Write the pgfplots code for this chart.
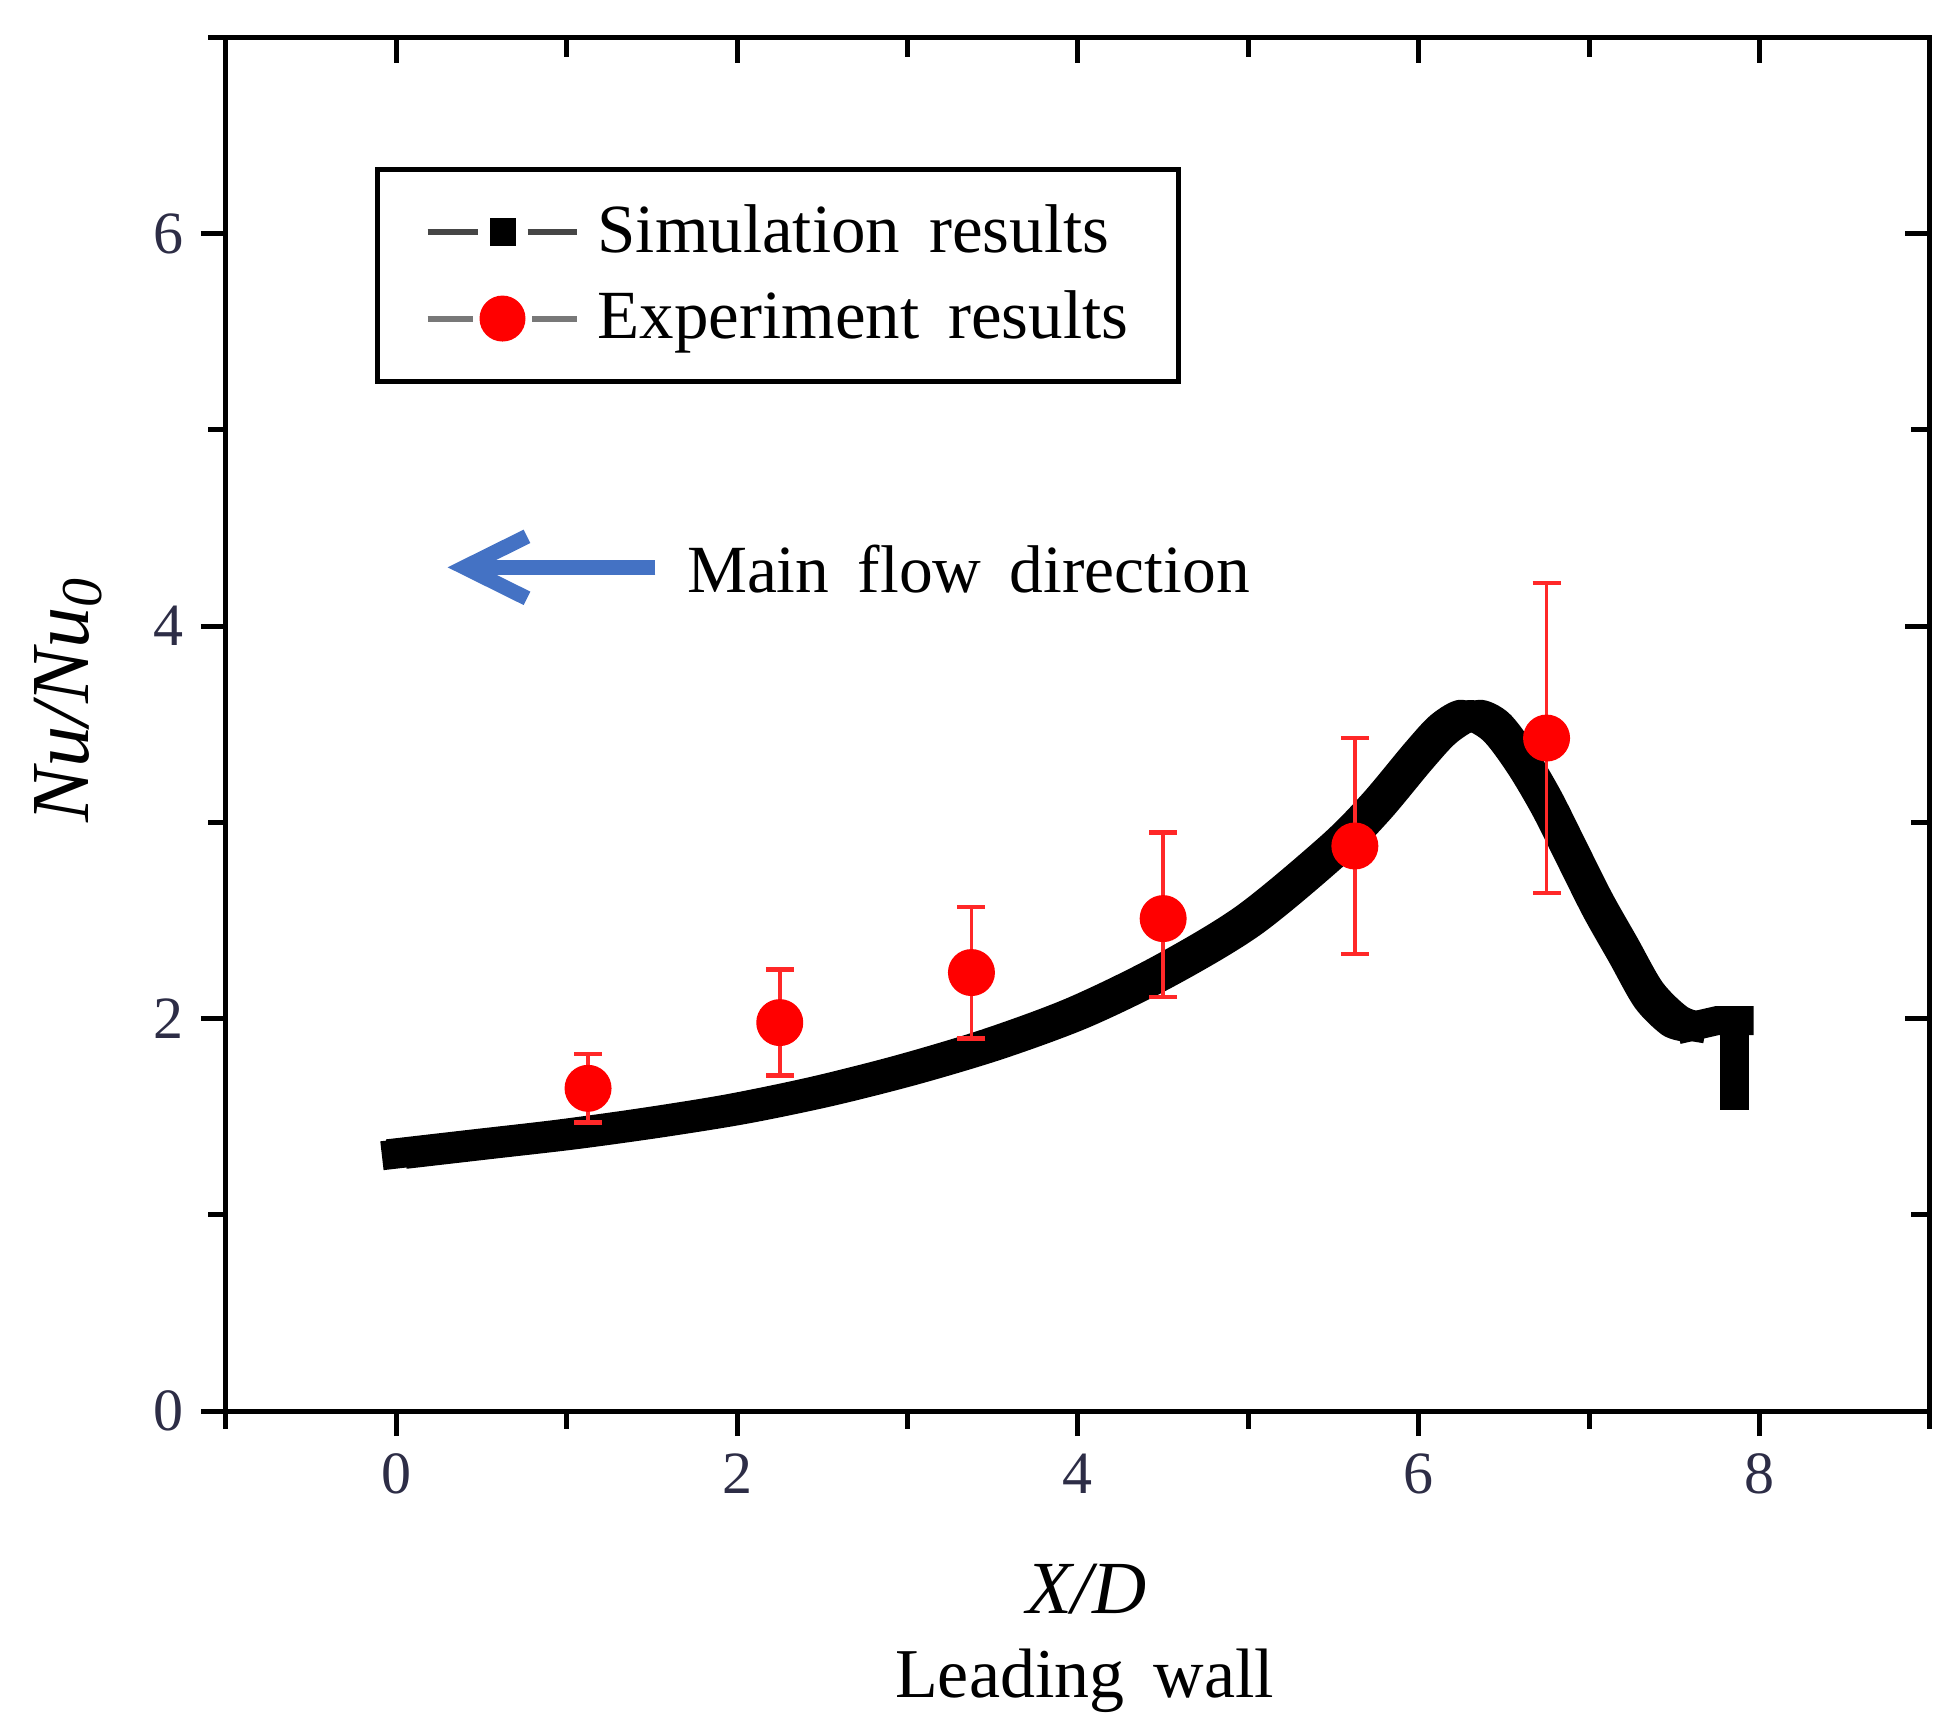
\documentclass[border=0pt]{standalone}
\usepackage{pgfplots}
\usepackage{pgfplotstable}
\pgfplotsset{compat=1.18}
\usepackage{fontspec}
\setmainfont{Liberation Serif}
\definecolor{flowblue}{RGB}{68,114,196}
\definecolor{ticktext}{RGB}{45,45,70}
\definecolor{legline}{RGB}{70,70,70}
\definecolor{legline2}{RGB}{120,120,120}
\definecolor{errred}{RGB}{255,40,40}
\newcommand{\ws}{\hspace{0.42em}}

% simulation curve (centre of the thick band)
\pgfplotstableread{
x y
0 1.31
0.5 1.36
1.0 1.41
1.5 1.47
2.0 1.54
2.5 1.63
3.0 1.74
3.5 1.87
4.0 2.03
4.5 2.24
5.0 2.50
5.5 2.86
5.75 3.08
6.0 3.34
6.15 3.48
6.3 3.55
6.45 3.49
6.6 3.32
6.75 3.10
6.9 2.84
7.05 2.58
7.2 2.35
7.35 2.12
7.5 1.99
7.6 1.96
}\simdata

\pgfplotstableread{
x y ep em
1.125 1.645 0.175 0.175
2.25 1.98 0.27 0.27
3.375 2.235 0.335 0.335
4.5 2.51 0.44 0.40
5.625 2.88 0.55 0.55
6.75 3.43 0.79 0.79
}\expdata

\begin{document}
\begin{tikzpicture}
% inward ticks on top and right
\begin{axis}[
    at={(0,0)}, anchor=south west,
    scale only axis, width=340.9pt, height=274.8pt,
    xmin=-1, xmax=9, ymin=0, ymax=7,
    axis line style={draw=none},
    xtick={0,2,...,8}, ytick={0,2,4,6},
    minor xtick={1,3,5,7}, minor ytick={1,3,5},
    tick align=inside, tick pos=right,
    major tick length=5pt, minor tick length=3.8pt,
    every tick/.style={black, line width=1pt},
    xticklabels={}, yticklabels={},
]
\end{axis}
\begin{axis}[
    name=ax, at={(0,0)}, anchor=south west,
    scale only axis, width=340.9pt, height=274.8pt,
    xmin=-1, xmax=9, ymin=0, ymax=7,
    axis line style={line width=1pt},
    xtick={0,2,...,8}, ytick={0,2,4,6},
    minor xtick={-1,1,3,5,7,9}, minor ytick={1,3,5,7},
    tick align=outside, tick pos=left,
    major tick length=5pt, minor tick length=3.5pt,
    every tick/.style={black, line width=1pt},
    tick label style={font=\fontsize{12}{14}\selectfont, text=ticktext},
    /pgf/number format/assume math mode=true,
    clip=false,
    legend cell align=left,
    legend style={at={(axis cs:-0.125,6.34)}, anchor=north west,
        draw=black, line width=1pt,
        font=\fontsize{13.8}{16}\selectfont,
        inner xsep=8pt, inner ysep=5pt, row sep=2.2pt},
    simline/.style={black, smooth, line join=round, forget plot},
]
% simulation: a square-ish pen built from a centre stroke and four offset strokes
\addplot[simline, line width=5.8pt, line cap=rect] table {\simdata};
\addplot[simline, line width=2pt, xshift=1.95pt, yshift=1.95pt] table {\simdata};
\addplot[simline, line width=2pt, xshift=-1.95pt, yshift=1.95pt] table {\simdata};
\addplot[simline, line width=2pt, xshift=1.95pt, yshift=-1.95pt] table {\simdata};
\addplot[simline, line width=2pt, xshift=-1.95pt, yshift=-1.95pt] table {\simdata};
\addplot[black, line width=5.8pt, line cap=rect, line join=miter, forget plot]
    coordinates {(7.6,1.96) (7.75,1.99) (7.88,1.99)};
\addplot[black, line width=5.8pt, line cap=rect, forget plot]
    coordinates {(7.85,1.96) (7.85,1.61)};
\addlegendimage{legend image code/.code={
        \path[draw=none, fill=none] (0pt,-3pt) rectangle (34pt,3pt);
        \draw[legline, line width=1.2pt] (2pt,0pt) -- (12pt,0pt);
        \draw[legline, line width=1.2pt] (22pt,0pt) -- (32pt,0pt);
        \path[fill=black, draw=none] (14.4pt,-2.8pt) rectangle (19.6pt,2.8pt);
    }}
\addlegendentry{Simulation\ws results}
% experiment
\addplot[only marks, mark=*, mark size=4.5pt, mark options={fill=red, draw=red},
    legend image code/.code={
        \path[draw=none, fill=none] (0pt,-3pt) rectangle (34pt,3pt);
        \draw[legline2, line width=1.2pt] (2pt,0pt) -- (11pt,0pt);
        \draw[legline2, line width=1.2pt] (23pt,0pt) -- (32pt,0pt);
        \path[fill=red, draw=none] (17pt,0pt) circle (4.6pt);
    },
    error bars/.cd, y dir=both, y explicit,
    error bar style={errred, line width=0.7pt},
    error mark options={rotate=90, errred, mark size=2.8pt, line width=0.9pt},
    ] table[x=x, y=y, y error plus=ep, y error minus=em] {\expdata};
\addlegendentry{Experiment\ws results}
% annotation
\draw[flowblue, line width=3pt] (axis cs:1.52,4.30) -- (axis cs:0.45,4.30);
\draw[flowblue, line width=3pt, line join=miter]
    ([xshift=12.5pt,yshift=6.2pt]axis cs:0.40,4.30) -- (axis cs:0.40,4.30)
    -- ([xshift=12.5pt,yshift=-6.2pt]axis cs:0.40,4.30);
\node[anchor=base west, inner sep=0pt, font=\fontsize{13.5}{16}\selectfont]
    at (axis cs:1.70,4.17) {Main\ws flow\ws direction};
% axis labels
\node[rotate=90, font=\fontsize{16.5}{18}\selectfont]
    at ([xshift=-31.5pt]axis description cs:0,0.518) {\textit{Nu/Nu\textsubscript{0}}};
\node[font=\fontsize{15}{17}\selectfont]
    at ([yshift=-35.7pt]axis description cs:0.505,0) {\textit{X/D}};
\node[font=\fontsize{14}{17}\selectfont]
    at ([yshift=-53.9pt]axis description cs:0.504,0) {Leading\ws wall};
\end{axis}
\pgfresetboundingbox
\path (-45.2pt,-63.5pt) rectangle (343.9pt,282.3pt);
\end{tikzpicture}
\end{document}
